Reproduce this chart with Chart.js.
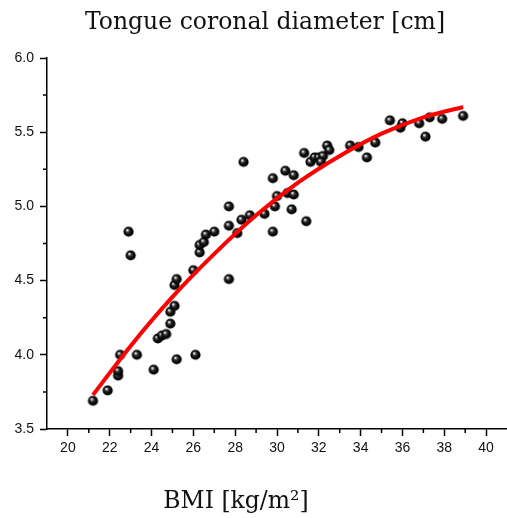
<!DOCTYPE html>
<html>
<head>
<meta charset="utf-8">
<script src="https://cdn.jsdelivr.net/npm/chart.js@4/dist/chart.umd.min.js"></script>
<style>
  html, body { margin: 0; padding: 0; background: #fff; }
  canvas { display: block; }
</style>
</head>
<body>
<canvas id="chart" width="507" height="518"></canvas>
<script>
const bmi = [
  21.2, 21.9, 22.4, 22.4, 22.5, 22.9, 23.0, 23.3, 24.1, 24.3,
  24.5, 24.7, 24.9, 24.9, 25.1, 25.1, 25.2, 25.2, 26.0, 26.1,
  26.3, 26.3, 26.5, 26.6, 27.0, 27.7, 27.7, 27.7, 28.1, 28.4,
  28.3, 28.7, 29.4, 29.8, 29.8, 29.9, 30.0, 30.4, 30.8, 30.5,
  30.8, 30.7, 31.4, 31.3, 31.6, 31.8, 32.0, 32.2, 32.1, 32.4,
  32.5, 33.5, 33.9, 34.3, 34.7, 35.4, 35.9, 36.0, 36.8, 37.1,
  37.3, 37.9, 38.9,
]
const diameter = [
  3.69, 3.76, 3.86, 3.89, 4.00, 4.83, 4.67, 4.00, 3.90, 4.11,
  4.13, 4.14, 4.21, 4.29, 4.33, 4.47, 4.51, 3.97, 4.57, 4.00,
  4.69, 4.74, 4.76, 4.81, 4.83, 5.00, 4.87, 4.51, 4.82, 5.30,
  4.91, 4.94, 4.95, 4.83, 5.19, 5.00, 5.07, 5.24, 5.21, 5.09,
  5.08, 4.98, 4.90, 5.36, 5.30, 5.33, 5.33, 5.34, 5.30, 5.41,
  5.38, 5.41, 5.40, 5.33, 5.43, 5.58, 5.53, 5.56, 5.56, 5.47,
  5.60, 5.59, 5.61,
]
// fitted curve
const fitX = [21.2, 23, 25, 27, 29, 31, 33, 35, 37, 38.9]
const fitY = [3.73, 4.06, 4.39, 4.68, 4.94, 5.16, 5.34, 5.49, 5.60, 5.67]

const xTicks = [20, 22, 24, 26, 28, 30, 32, 34, 36, 38, 40]
const xMinor = [21, 23, 25, 27, 29, 31, 33, 35, 37, 39]
const yTicks = [3.5, 4.0, 4.5, 5.0, 5.5, 6.0]
const yMinor = [3.75, 4.25, 4.75, 5.25, 5.75]

const titleText = 'Tongue coronal diameter [cm]'
const xTitleText = 'BMI [kg/m²]'
const serif = '"DejaVu Serif", serif'

function sphere(r) {
  const c = document.createElement('canvas')
  const s = Math.ceil(r * 2 + 2)
  c.width = s
  c.height = s
  const g = c.getContext('2d')
  const m = s / 2
  const grad = g.createRadialGradient(m - r * 0.3, m - r * 0.35, 0, m, m, r)
  grad.addColorStop(0, '#ffffff')
  grad.addColorStop(0.15, '#cfcfcf')
  grad.addColorStop(0.35, '#3a3a3a')
  grad.addColorStop(0.65, '#0c0c0c')
  grad.addColorStop(1, '#000000')
  g.fillStyle = grad
  g.beginPath()
  g.arc(m, m, r, 0, Math.PI * 2)
  g.fill()
  return c
}

const ball = sphere(5.1)

const extras = {
  id: 'extras',
  afterDraw(chart) {
    const ctx = chart.ctx
    const xs = chart.scales.x
    const ys = chart.scales.y
    ctx.save()
    ctx.strokeStyle = '#000'
    ctx.lineWidth = 1.5
    ctx.beginPath()
    xMinor.forEach((v) => {
      const px = xs.getPixelForValue(v)
      ctx.moveTo(px, xs.top)
      ctx.lineTo(px, xs.top + 4)
    })
    yMinor.forEach((v) => {
      const py = ys.getPixelForValue(v)
      ctx.moveTo(ys.right, py)
      ctx.lineTo(ys.right - 4, py)
    })
    ctx.stroke()

    ctx.fillStyle = '#111'
    ctx.textAlign = 'center'
    ctx.textBaseline = 'alphabetic'
    ctx.font = '23.5px ' + serif
    ctx.fillText(titleText, 265, 29)
    ctx.fillText(xTitleText, 236, 508)
    ctx.restore()
  },
}

const tickFont = { family: '"Liberation Sans", Arial, sans-serif', size: 14 }

new Chart(document.getElementById('chart'), {
  type: 'scatter',
  data: {
    datasets: [
      {
        label: 'fit',
        data: fitX.map((x, i) => ({ x, y: fitY[i] })),
        showLine: true,
        borderColor: '#ff0000',
        borderWidth: 4,
        pointRadius: 0,
        cubicInterpolationMode: 'monotone',
        order: 0,
      },
      {
        label: 'subjects',
        data: bmi.map((x, i) => ({ x, y: diameter[i] })),
        pointStyle: ball,
        pointRadius: 5,
        order: 1,
      },
    ],
  },
  options: {
    responsive: false,
    animation: false,
    layout: { autoPadding: false, padding: { top: 58, right: 0, bottom: 0, left: 0 } },
    plugins: { legend: { display: false }, tooltip: { enabled: false }, title: { display: false } },
    scales: {
      x: {
        type: 'linear',
        min: 19,
        max: 41,
        afterBuildTicks: (scale) => { scale.ticks = xTicks.map((v) => ({ value: v })) },
        afterFit: (scale) => {
          scale.height = 89
          scale.paddingLeft = 0
          scale.paddingRight = 0
        },
        ticks: { font: tickFont, color: '#111', padding: 4, autoSkip: false, maxRotation: 0 },
        grid: { drawOnChartArea: false, tickLength: 7, tickColor: '#000', tickWidth: 1.5 },
        border: { display: true, color: '#000', width: 1.5 },
      },
      y: {
        min: 3.5,
        max: 6.0,
        afterBuildTicks: (scale) => { scale.ticks = yTicks.map((v) => ({ value: v })) },
        afterFit: (scale) => {
          scale.width = 47
          scale.paddingTop = 0
          scale.paddingBottom = 0
        },
        ticks: { font: tickFont, color: '#111', padding: 6, callback: (v) => Number(v).toFixed(1) },
        grid: { drawOnChartArea: false, tickLength: 7, tickColor: '#000', tickWidth: 1.5 },
        border: { display: true, color: '#000', width: 1.5 },
      },
    },
  },
  plugins: [extras],
})
</script>
</body>
</html>
